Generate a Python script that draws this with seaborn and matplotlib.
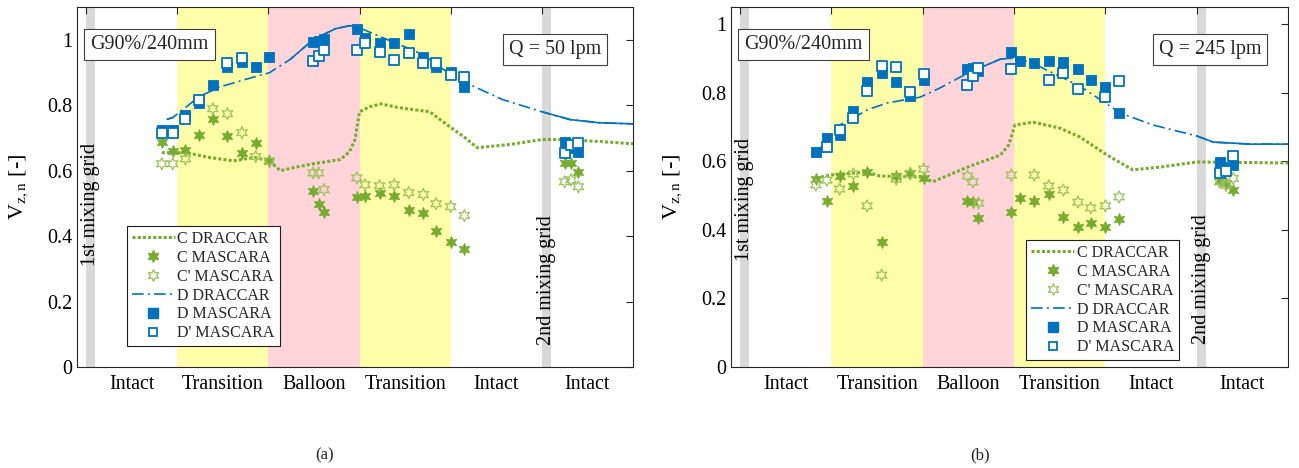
import numpy as np
import pandas as pd
import matplotlib
matplotlib.use("Agg")
import matplotlib.pyplot as plt
import seaborn as sns
from matplotlib.lines import Line2D

# ---------------- data ----------------
REGIONS = ["Intact", "Transition", "Balloon", "Transition", "Intact", "Intact"]
BOUNDARIES = [0, 1, 2, 3, 4, 5]
NAN = np.nan

X_MEAS = [0.83, 0.95, 1.09, 1.24, 1.39, 1.55, 1.71, 1.86, 2.01,
          2.49, 2.55, 2.61, 2.97, 3.06, 3.22, 3.38, 3.54, 3.70, 3.84, 4.00, 4.15,
          5.25, 5.32, 5.40]

# panel (a)  Q = 50 lpm
A_D_MASCARA = [0.725, 0.725, 0.771, 0.808, 0.862, 0.918, 0.933, 0.918, 0.948,
               0.994, 0.997, 1.003, 1.034, 1.006, 0.990, 0.990, 1.018, 0.948, 0.918, 0.902, 0.856,
               0.689, 0.670, 0.658]
A_DP_MASCARA = [0.716, 0.716, 0.758, 0.815, NAN, 0.930, 0.945, NAN, NAN,
                0.936, 0.951, 0.969, 0.969, 0.991, 0.963, 0.939, 0.960, 0.930, 0.930, 0.893, 0.887,
                0.655, 0.679, 0.685]
A_C_MASCARA = [0.689, 0.660, 0.664, 0.710, 0.758, 0.705, 0.655, 0.683, 0.630,
               0.539, 0.499, 0.475, 0.518, 0.524, 0.533, 0.521, 0.481, 0.470, 0.417, 0.383, 0.360,
               0.624, 0.624, 0.597]
A_CP_MASCARA = [0.621, 0.621, 0.636, NAN, 0.789, 0.774, 0.716, 0.643, 0.630,
                0.593, 0.593, 0.542, 0.578, 0.557, 0.554, 0.557, 0.533, 0.527, 0.499, 0.490, 0.463,
                0.566, 0.572, 0.551]
A_D_DRACCAR_X = [0.89, 0.95, 1.24, 1.47, 1.74, 2.01, 2.24, 2.49, 2.73, 2.89, 2.97, 3.23,
                 3.44, 3.70, 4.00, 4.16, 4.57, 5.00, 5.31, 5.64, 6.00]
A_D_DRACCAR_Y = [0.757, 0.762, 0.826, 0.856, 0.878, 0.899, 0.940, 1.000, 1.033, 1.043, 1.040, 1.009,
                 0.985, 0.954, 0.893, 0.869, 0.817, 0.780, 0.756, 0.746, 0.743]
A_C_DRACCAR_X = [0.83, 1.09, 1.36, 1.61, 1.85, 2.01, 2.13, 2.29, 2.49, 2.79, 2.89, 2.95, 3.00,
                 3.11, 3.23, 3.44, 3.77, 3.99, 4.16, 4.29, 4.65, 5.00, 5.23, 5.64, 6.00]
A_C_DRACCAR_Y = [0.655, 0.655, 0.640, 0.630, 0.640, 0.630, 0.600, 0.610, 0.621, 0.634, 0.658, 0.695, 0.780,
                 0.795, 0.804, 0.792, 0.780, 0.734, 0.700, 0.670, 0.680, 0.695, 0.695, 0.689, 0.682]

# panel (b)  Q = 245 lpm
B_D_MASCARA = [0.627, 0.668, 0.677, 0.747, 0.831, 0.857, 0.831, 0.790, 0.838,
               0.869, 0.872, 0.863, 0.918, 0.892, 0.886, 0.892, 0.889, 0.869, 0.837, 0.817, 0.741,
               0.598, 0.583, 0.589]
B_DP_MASCARA = [NAN, 0.642, 0.691, 0.726, 0.805, 0.878, 0.875, 0.802, 0.855,
                0.822, 0.849, 0.872, 0.869, NAN, NAN, 0.837, 0.857, 0.811, NAN, 0.787, 0.834,
                0.566, 0.572, 0.615]
B_C_MASCARA = [0.548, 0.484, 0.557, 0.528, 0.569, 0.364, 0.557, 0.566, 0.552,
               0.484, 0.481, 0.434, 0.452, 0.493, 0.484, 0.504, 0.437, 0.408, 0.420, 0.408, 0.432,
               0.545, 0.537, 0.516]
B_CP_MASCARA = [0.531, 0.545, 0.519, 0.563, 0.470, 0.268, 0.548, 0.563, 0.577,
                0.557, 0.540, 0.478, 0.560, NAN, 0.560, 0.528, 0.516, 0.481, 0.464, 0.470, 0.496,
                0.540, 0.530, 0.550]
B_D_DRACCAR_X = [0.88, 1.09, 1.24, 1.39, 1.61, 1.97, 2.19, 2.49, 2.85, 2.98, 3.18, 3.36,
                 3.72, 4.00, 4.16, 4.52, 5.00, 5.18, 5.59, 6.00]
B_D_DRACCAR_Y = [0.639, 0.706, 0.726, 0.750, 0.770, 0.787, 0.814, 0.857, 0.898, 0.901, 0.889, 0.866,
                 0.819, 0.770, 0.741, 0.706, 0.674, 0.656, 0.650, 0.650]
B_C_DRACCAR_X = [0.83, 0.99, 1.39, 1.53, 2.00, 2.11, 2.49, 2.85, 2.94, 3.01, 3.21, 3.50,
                 3.72, 4.02, 4.30, 4.60, 5.00, 6.00]
B_C_DRACCAR_Y = [0.551, 0.560, 0.569, 0.557, 0.554, 0.540, 0.583, 0.618, 0.647, 0.706, 0.714, 0.697,
                 0.671, 0.618, 0.575, 0.583, 0.598, 0.595]

# ---------------- style ----------------
sns.set_theme(style="white")
plt.rcParams["font.family"] = ["Liberation Serif", "DejaVu Serif"]
plt.rcParams["mathtext.fontset"] = "stix"

GREEN = "#77AC30"
LGREEN = "#9CC25A"
BLUE = "#0072BD"
YELLOW = "#FFFFAA"
PINK = "#FFD5DA"
GRAY = "#D9D9D9"
AXC = "#262626"
DASHDOT = (0, (7, 2.5, 1.2, 2.5))
DOTTED = (0, (1, 0.7))
STAR = (6, 1, 0)

fig = plt.figure(figsize=(12.99, 4.68), dpi=100)
ax_a = fig.add_axes([77 / 1299, 101 / 468, 556 / 1299, 360 / 468])
ax_b = fig.add_axes([731 / 1299, 101 / 468, 557 / 1299, 360 / 468])


def panel(ax, d_m, dp_m, c_m, cp_m, dx, dy, cx, cy, ymax, qtext, leg_anchor):
    ax.set_xlim(-0.1, 6.0)
    ax.set_ylim(0, ymax)
    ax.axvspan(1, 2, color=YELLOW, lw=0, zorder=0)
    ax.axvspan(2, 3, color=PINK, lw=0, zorder=0)
    ax.axvspan(3, 4, color=YELLOW, lw=0, zorder=0)
    ax.axvspan(0, 0.1, color=GRAY, lw=0, zorder=0)
    ax.axvspan(5, 5.1, color=GRAY, lw=0, zorder=0)

    ax.text(0.05, 0.31, "1st mixing grid", rotation=90, ha="center", va="bottom",
            fontsize=14.5, color="black", zorder=6)
    ax.text(5.05, 0.068, "2nd mixing grid", rotation=90, ha="center", va="bottom",
            fontsize=14.5, color="black", zorder=6)

    # DRACCAR curves
    sns.lineplot(x=cx, y=cy, ax=ax, color=GREEN, lw=2.2, linestyle=DOTTED,
                 sort=False, estimator=None, zorder=3)
    sns.lineplot(x=dx, y=dy, ax=ax, color=BLUE, lw=1.2, linestyle=DASHDOT,
                 sort=False, estimator=None, zorder=3)
    dxa = np.array(dx)
    dya = np.array(dy)
    for lo, hi in [(0.85, 1.0), (2.2, 3.1), (5.0, 6.1)]:
        m = (dxa >= lo) & (dxa <= hi)
        sns.lineplot(x=dxa[m], y=dya[m], ax=ax, color=BLUE, lw=1.2,
                     sort=False, estimator=None, zorder=3)

    # MASCARA markers
    sns.scatterplot(x=X_MEAS, y=c_m, ax=ax, marker=STAR, s=75, color=GREEN,
                    edgecolor=GREEN, linewidth=0.6, zorder=4)
    sns.scatterplot(x=X_MEAS, y=cp_m, ax=ax, marker=STAR, s=75, facecolor="none",
                    edgecolor=LGREEN, linewidth=0.9, zorder=4)
    sns.scatterplot(x=X_MEAS, y=d_m, ax=ax, marker="s", s=58, color=BLUE,
                    edgecolor=BLUE, linewidth=0.6, zorder=5)
    sns.scatterplot(x=X_MEAS, y=dp_m, ax=ax, marker="s", s=42, facecolor="white",
                    edgecolor=BLUE, linewidth=1.3, zorder=5)

    # axes
    ax.set_xticks(BOUNDARIES)
    ax.set_xticklabels([""] * len(BOUNDARIES))
    ax.set_xticks([b + 0.5 for b in BOUNDARIES], minor=True)
    ax.set_xticklabels(REGIONS, minor=True, fontsize=14.5)
    ax.tick_params(axis="x", which="minor", length=0, pad=6, colors="black")
    ax.tick_params(axis="both", which="major", direction="in", length=5, width=0.8,
                   top=True, right=True, color=AXC, labelsize=14.5, labelcolor="black")
    yt = [0, 0.2, 0.4, 0.6, 0.8, 1.0]
    ax.set_yticks(yt)
    ax.set_yticklabels(["0", "0.2", "0.4", "0.6", "0.8", "1"])
    for sp in ax.spines.values():
        sp.set_visible(True)
        sp.set_color(AXC)
        sp.set_linewidth(0.8)
        sp.set_zorder(7)
    ax.set_xlabel("")
    ax.set_ylabel(r"V$_{\mathrm{z,n}}$ [-]", fontsize=16, color="black")
    ax.yaxis.set_label_coords(-0.085, 0.5)

    box = dict(boxstyle="square,pad=0.3", facecolor="white", edgecolor="#404040", lw=0.8)
    ax.text(0.13, 0.895, "G90%/240mm", transform=ax.transAxes, ha="center", va="center",
            fontsize=14.5, bbox=box, zorder=8)
    ax.text(0.86, 0.883, qtext, transform=ax.transAxes, ha="center", va="center",
            fontsize=14.5, bbox=box, zorder=8)

    handles = [
        Line2D([], [], color=GREEN, lw=2.2, linestyle=DOTTED),
        Line2D([], [], color=GREEN, marker=STAR, ls="none", markersize=8.5),
        Line2D([], [], color=LGREEN, marker=STAR, ls="none", markersize=8.5,
               markerfacecolor="none", markeredgewidth=0.9),
        Line2D([], [], color=BLUE, lw=1.2, linestyle=DASHDOT),
        Line2D([], [], color=BLUE, marker="s", ls="none", markersize=7),
        Line2D([], [], color=BLUE, marker="s", ls="none", markersize=6.3,
               markerfacecolor="white", markeredgewidth=1.3),
    ]
    labels = ["C DRACCAR", "C MASCARA", "C' MASCARA", "D DRACCAR", "D MASCARA", "D' MASCARA"]
    leg = ax.legend(handles, labels, loc="lower left", bbox_to_anchor=leg_anchor,
                    fontsize=11.5, frameon=True, fancybox=False, edgecolor="#202020",
                    framealpha=1, borderpad=0.3, labelspacing=0.18, handlelength=2.7,
                    handletextpad=0.15, borderaxespad=0)
    leg.get_frame().set_linewidth(0.8)
    leg.set_zorder(9)


panel(ax_a, A_D_MASCARA, A_DP_MASCARA, A_C_MASCARA, A_CP_MASCARA,
      A_D_DRACCAR_X, A_D_DRACCAR_Y, A_C_DRACCAR_X, A_C_DRACCAR_Y,
      1.1, "Q = 50 lpm", (0.09, 0.058))
panel(ax_b, B_D_MASCARA, B_DP_MASCARA, B_C_MASCARA, B_CP_MASCARA,
      B_D_DRACCAR_X, B_D_DRACCAR_Y, B_C_DRACCAR_X, B_C_DRACCAR_Y,
      1.05, "Q = 245 lpm", (0.53, 0.019))

fig.text(325 / 1299, 1 - 455 / 468, "(a)", ha="center", va="center", fontsize=12)
fig.text(980 / 1299, 1 - 455 / 468, "(b)", ha="center", va="center", fontsize=12)

fig.savefig("out.png", dpi=100)
